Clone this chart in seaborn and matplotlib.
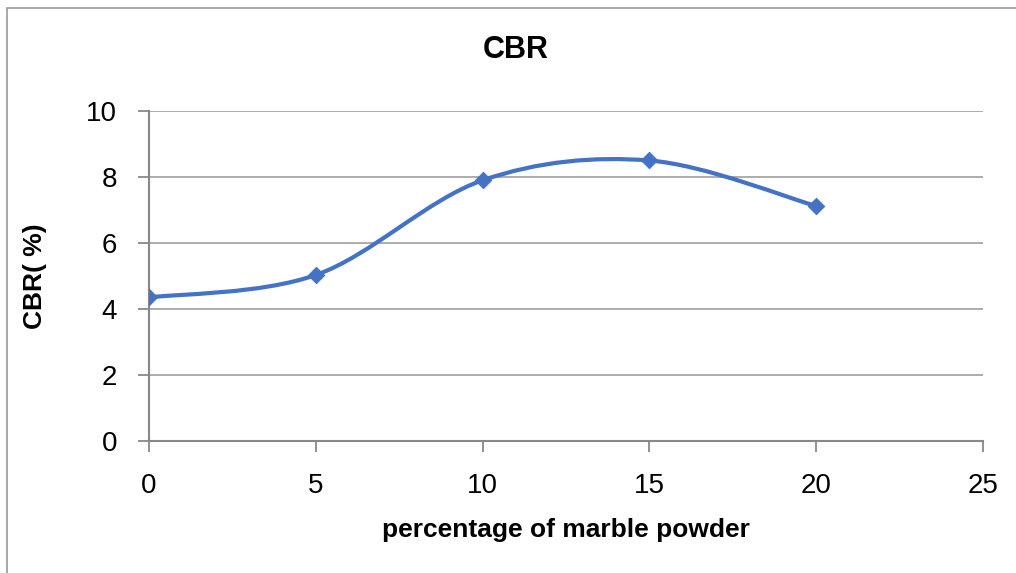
import numpy as np
import matplotlib
matplotlib.use("Agg")
import matplotlib.pyplot as plt
from matplotlib.path import Path
from matplotlib.patches import PathPatch, Rectangle
import seaborn as sns

# data
marble_pct = [0, 5, 10, 15, 20]
cbr_values = [4.35, 5.03, 7.9, 8.5, 7.12]
x_ticks = [0, 5, 10, 15, 20, 25]
y_ticks = [0, 2, 4, 6, 8, 10]

LINE_COLOR = "#4472C4"
GRID_COLOR = "#A6A6A6"

sns.set_theme(style="white")
plt.rcParams["font.family"] = ["Liberation Sans Narrow", "Liberation Sans", "DejaVu Sans"]
plt.rcParams["text.color"] = "black"
plt.rcParams["axes.labelcolor"] = "black"


def smooth_path(xs, ys):
    """Excel-style smoothed line: cubic Bezier segments through the points."""
    pts = np.column_stack([xs, ys]).astype(float)
    n = len(pts)
    verts = [pts[0]]
    codes = [Path.MOVETO]
    for i in range(n - 1):
        p0 = pts[max(i - 1, 0)]
        p1 = pts[i]
        p2 = pts[i + 1]
        p3 = pts[min(i + 2, n - 1)]
        c1 = p1 + (p2 - p0) / 6
        c2 = p2 - (p3 - p1) / 6
        verts += [c1, c2, p2]
        codes += [Path.CURVE4] * 3
    return Path(verts, codes)


fig = plt.figure(figsize=(10.16, 5.73), dpi=100)
ax = fig.add_axes([0.1467, 0.2304, 0.8208, 0.5759])

# chart area border (left/top visible)
fig.patches.append(Rectangle((7 / 1016, -0.1), 1.2, 1 - 8 / 573 + 0.1,
                             transform=fig.transFigure, fill=False,
                             edgecolor="#9A9A9A", linewidth=1.2))

ax.add_patch(PathPatch(smooth_path(marble_pct, cbr_values), facecolor="none",
                       edgecolor=LINE_COLOR, linewidth=3, zorder=3))
sns.scatterplot(x=marble_pct, y=cbr_values, marker="D", s=70, color=LINE_COLOR,
                edgecolor=LINE_COLOR, ax=ax, zorder=4)

ax.set_xlim(0, 25)
ax.set_ylim(0, 10)
ax.set_xticks(x_ticks)
ax.set_yticks(y_ticks)
ax.yaxis.grid(True, color=GRID_COLOR, linewidth=1.3)
ax.xaxis.grid(False)
ax.set_axisbelow(True)

for side in ["top", "right"]:
    ax.spines[side].set_visible(False)
for side in ["left", "bottom"]:
    ax.spines[side].set_color("#888888")
    ax.spines[side].set_linewidth(1.5)

ax.tick_params(axis="both", which="major", direction="out", length=8, width=1.3,
               color="#888888", labelsize=20, labelcolor="black")
ax.tick_params(axis="x", bottom=True, pad=15)
ax.tick_params(axis="y", left=True, pad=15)

fig.text(0.508, 1 - 50 / 573, "CBR", fontsize=22, fontweight="bold",
         ha="center", va="center")
ax.set_xlabel("percentage of marble powder", fontsize=19, fontweight="bold", labelpad=14)
ax.set_ylabel("CBR( %)", fontsize=19, fontweight="bold", labelpad=28)

fig.savefig("out.png", dpi=100, facecolor="white")
